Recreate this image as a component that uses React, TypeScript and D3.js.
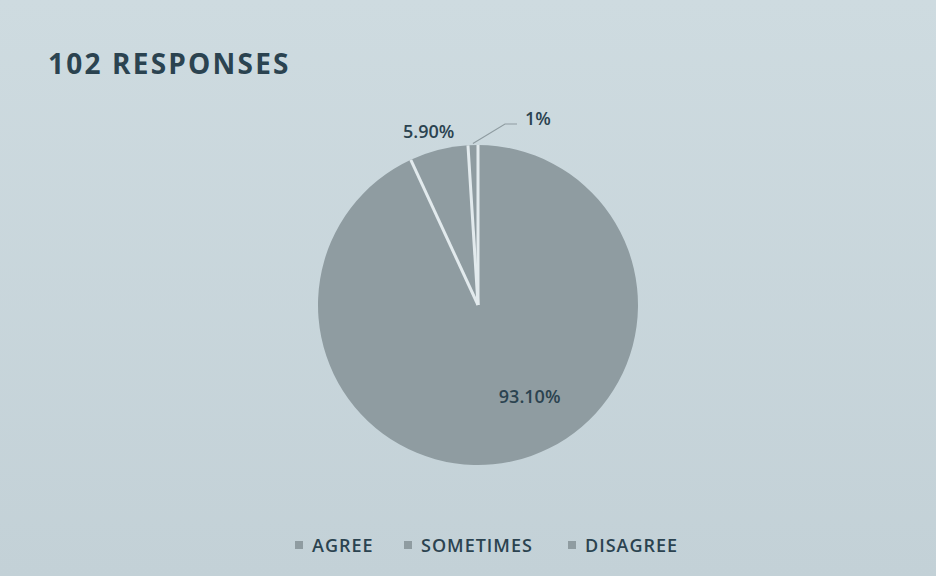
import React, { useEffect, useRef } from 'react';
import * as d3 from 'd3';

const categories = ['AGREE', 'SOMETIMES', 'DISAGREE'];
const values = [93.1, 5.9, 1];
const valueLabels = ['93.10%', '5.90%', '1%'];
const title = '102 RESPONSES';

type Slice = { name: string; value: number; label: string };

function App() {
  const svgRef = useRef<SVGSVGElement>(null);

  useEffect(() => {
    const width = 936;
    const height = 576;
    const cx = 478;
    const cy = 305;
    const radius = 160;
    const ink = '#2b4350';
    const sliceFill = '#8f9ca1';
    const gap = '#e2eaed';
    const font = '"Open Sans", Lato, sans-serif';

    const svg = d3.select(svgRef.current).attr('width', width).attr('height', height);
    svg.selectAll('*').remove();

    // background (photo of a projected slide)
    const defs = svg.append('defs');
    const grad = defs
      .append('linearGradient')
      .attr('id', 'bg')
      .attr('x1', 0)
      .attr('y1', 0)
      .attr('x2', 0)
      .attr('y2', 1);
    grad.append('stop').attr('offset', '0%').attr('stop-color', '#cedbe0');
    grad.append('stop').attr('offset', '100%').attr('stop-color', '#c3d1d7');
    svg.append('rect').attr('width', width).attr('height', height).attr('fill', 'url(#bg)');

    svg
      .append('text')
      .attr('x', 48)
      .attr('y', 74)
      .attr('font-family', font)
      .attr('font-weight', 700)
      .attr('font-size', 28)
      .attr('letter-spacing', 2.2)
      .attr('fill', ink)
      .text(title);

    const data: Slice[] = categories.map((c, i) => ({ name: c, value: values[i], label: valueLabels[i] }));
    const pie = d3
      .pie<Slice>()
      .value((d) => d.value)
      .sort(null);
    const arcs = pie(data);
    const arc = d3.arc<d3.PieArcDatum<Slice>>().innerRadius(0).outerRadius(radius);

    const g = svg.append('g').attr('transform', `translate(${cx},${cy})`);
    g.selectAll('path.slice')
      .data(arcs)
      .join('path')
      .attr('class', 'slice')
      .attr('d', arc)
      .attr('fill', sliceFill);

    // white separators between slices (no outer outline)
    g.selectAll('line.sep')
      .data(arcs)
      .join('line')
      .attr('class', 'sep')
      .attr('x1', 0)
      .attr('y1', 0)
      .attr('x2', (d) => Math.sin(d.startAngle) * radius)
      .attr('y2', (d) => -Math.cos(d.startAngle) * radius)
      .attr('stroke', gap)
      .attr('stroke-width', 3);

    const labelStyle = (sel: any) =>
      sel
        .attr('font-family', font)
        .attr('font-weight', 600)
        .attr('font-size', 18)
        .attr('fill', ink)
        .attr('text-anchor', 'middle');

    // AGREE – inside
    const a0 = arcs[0];
    const inner = d3.arc<d3.PieArcDatum<Slice>>().innerRadius(radius * 0.6).outerRadius(radius * 0.6);
    const [ax, ay] = inner.centroid(a0);
    g.append('text')
      .call(labelStyle)
      .attr('x', ax + 31)
      .attr('y', ay + 4)
      .text(a0.data.label);

    // SOMETIMES – outside above
    const a1 = arcs[1];
    const outer = d3.arc<d3.PieArcDatum<Slice>>().innerRadius(radius * 1.18).outerRadius(radius * 1.18);
    const [sx, sy] = outer.centroid(a1);
    g.append('text')
      .call(labelStyle)
      .attr('x', sx - 3)
      .attr('y', sy + 16)
      .text(a1.data.label);

    // DISAGREE – leader line
    const a2 = arcs[2];
    const edge = d3.arc<d3.PieArcDatum<Slice>>().innerRadius(radius * 1.01).outerRadius(radius * 1.01);
    const [ex, ey] = edge.centroid(a2);
    const lx = 27;
    const ly = -radius - 21;
    g.append('polyline')
      .attr('points', `${ex},${ey} ${lx},${ly} ${lx + 12},${ly}`)
      .attr('fill', 'none')
      .attr('stroke', sliceFill)
      .attr('stroke-width', 1.2);
    g.append('text')
      .call(labelStyle)
      .attr('text-anchor', 'start')
      .attr('x', lx + 20)
      .attr('y', ly + 1)
      .text(a2.data.label);

    // legend
    const legendX = [295, 404, 568];
    const legend = svg.append('g');
    categories.forEach((c, i) => {
      legend
        .append('rect')
        .attr('x', legendX[i])
        .attr('y', 541)
        .attr('width', 8)
        .attr('height', 8)
        .attr('fill', sliceFill);
      legend
        .append('text')
        .attr('x', legendX[i] + 17)
        .attr('y', 552)
        .attr('font-family', font)
        .attr('font-weight', 600)
        .attr('font-size', 18)
        .attr('letter-spacing', 1)
        .attr('fill', ink)
        .text(c);
    });
  }, []);

  return (
    <div style={{ position: 'absolute', left: 0, top: 0 }}>
      <svg ref={svgRef} style={{ display: 'block' }} />
    </div>
  );
}

export default App;
